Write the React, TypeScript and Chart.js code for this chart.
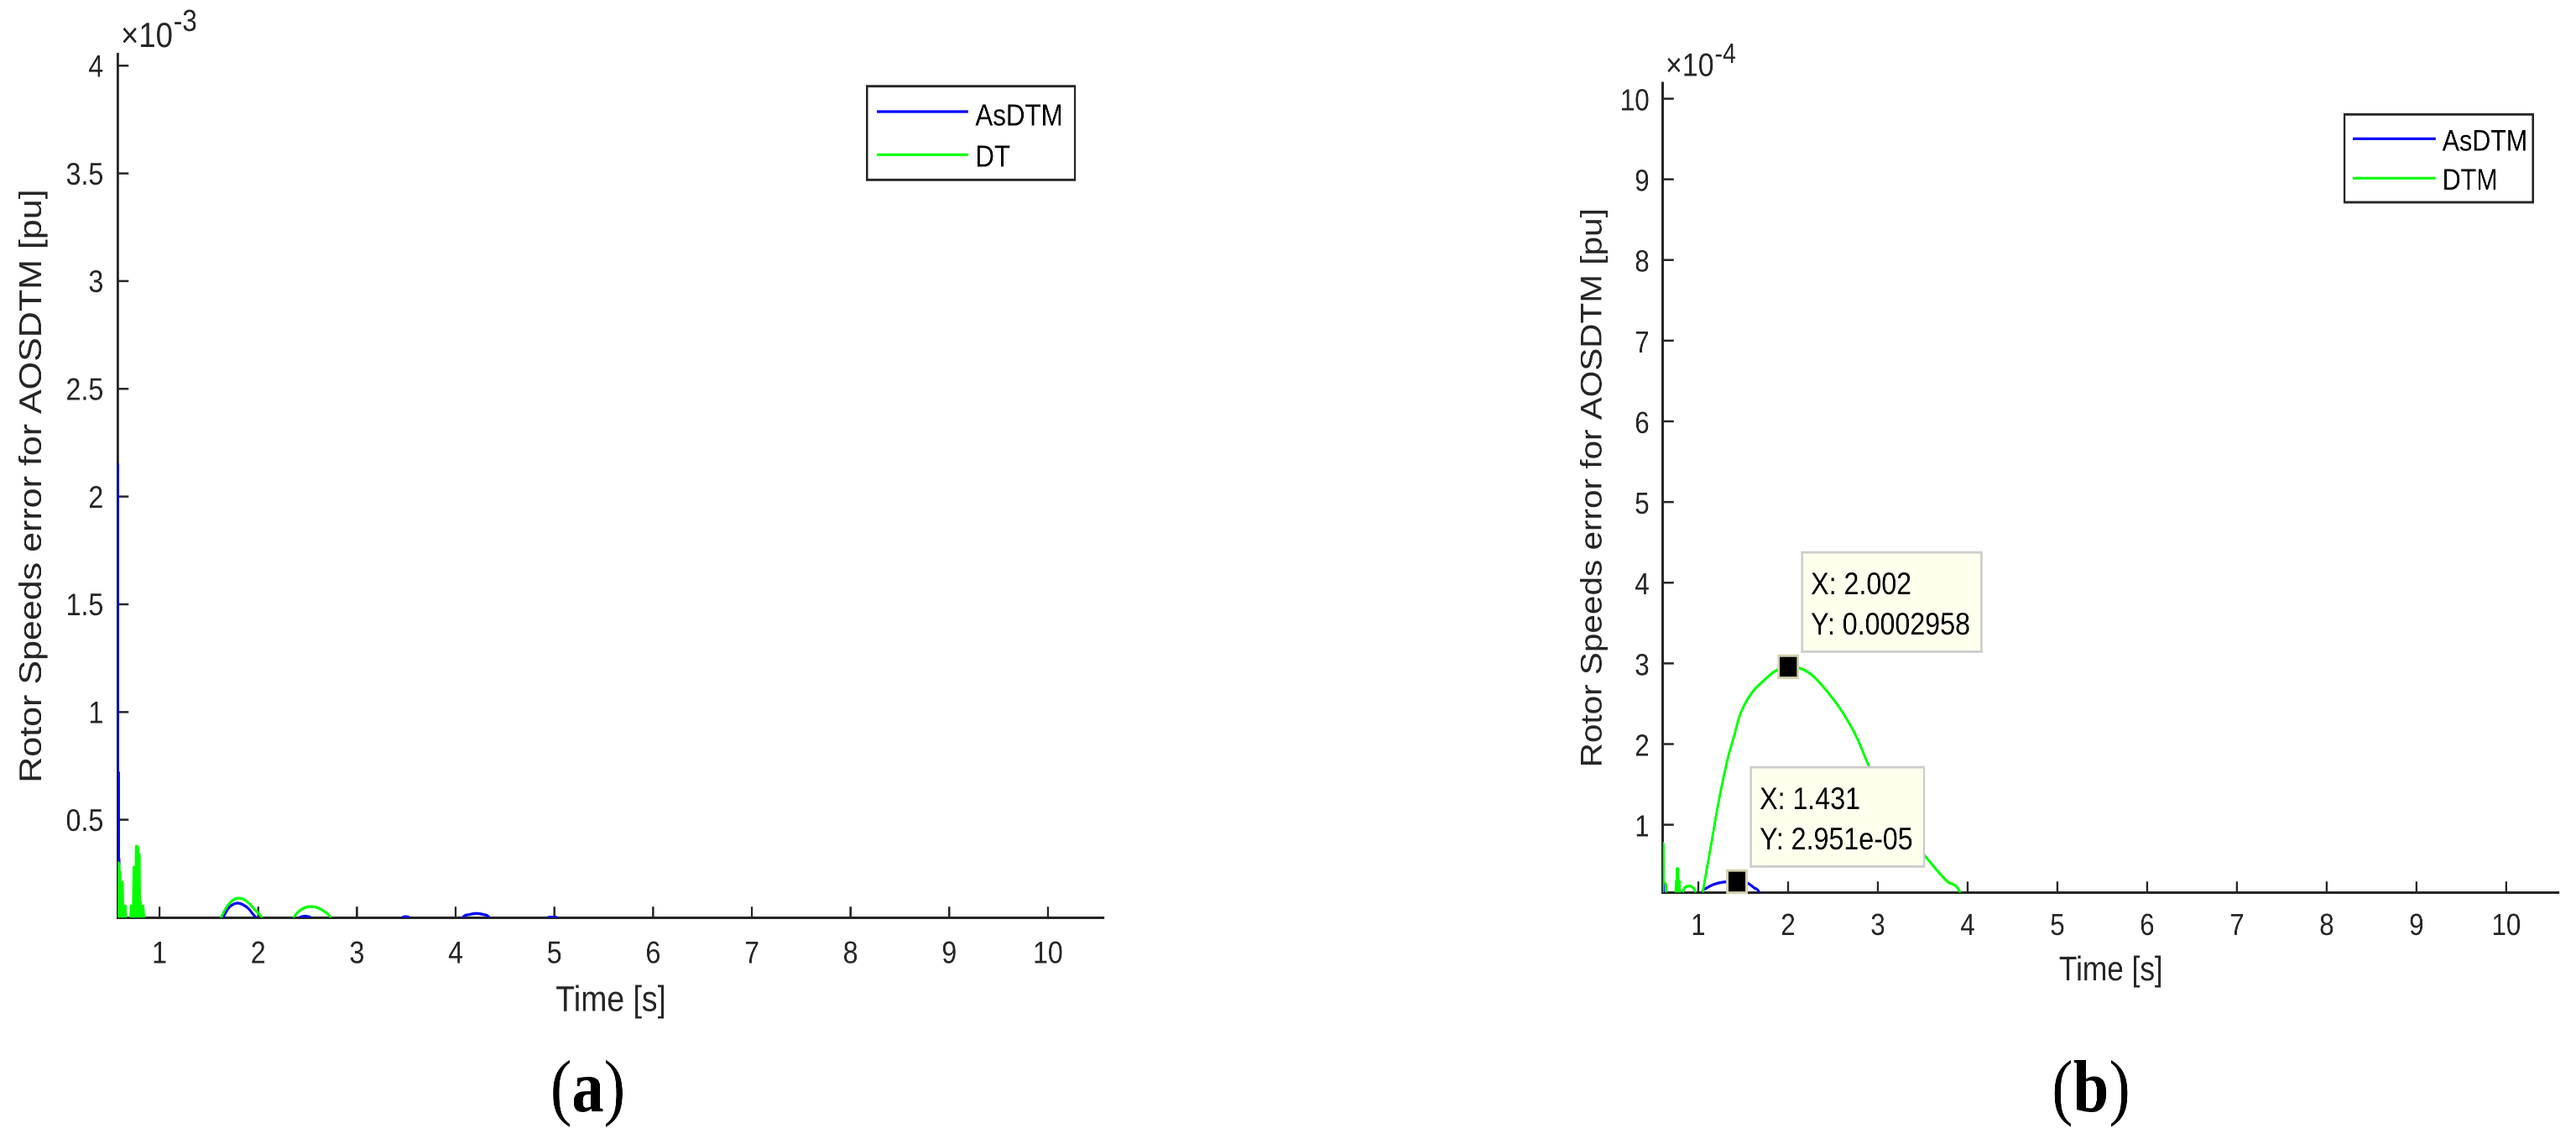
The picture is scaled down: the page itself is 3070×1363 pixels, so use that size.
import React, { useEffect, useRef } from 'react';
import { Chart, registerables } from 'chart.js';

Chart.register(...registerables);

// ---------------- data ----------------
const X_TICKS = [1, 2, 3, 4, 5, 6, 7, 8, 9, 10];
const X_TICK_LABELS = ['1', '2', '3', '4', '5', '6', '7', '8', '9', '10'];

// panel (a): y in units of 1e-3 pu
const A_Y_TICKS = [0.5, 1, 1.5, 2, 2.5, 3, 3.5, 4];
const A_Y_TICK_LABELS = ['0.5', '1', '1.5', '2', '2.5', '3', '3.5', '4'];
// panel (b): y in units of 1e-4 pu
const B_Y_TICKS = [1, 2, 3, 4, 5, 6, 7, 8, 9, 10];
const B_Y_TICK_LABELS = ['1', '2', '3', '4', '5', '6', '7', '8', '9', '10'];

const A_NAMES = ['AsDTM', 'DT'];
const B_NAMES = ['AsDTM', 'DTM'];

const A_ASDTM_T = [0.577, 0.579, 0.582, 0.585, 0.588, 0.591, 0.594, 0.598, 0.602, 0.62,
  0.735, 0.745, 0.752, 0.758, 0.765, 0.772, 0.78, 0.79,
  1.60, 1.645, 1.70, 1.75, 1.79, 1.84, 1.90, 1.95, 1.976, 2.02,
  2.40, 2.42, 2.475, 2.53, 2.55,
  3.44, 3.46, 3.495, 3.53, 3.55,
  4.04, 4.07, 4.14, 4.21, 4.28, 4.34, 4.37,
  4.92, 4.94, 4.98, 5.02, 5.04, 10.57];
const A_ASDTM_E = [0.5, 2.15, 0.3, 0.72, 0.2, 0.32, 0.1, 0.12, 0.03, 0,
  0, 0.11, 0.03, 0.175, 0.04, 0.1, 0.02, 0,
  0, 0.046, 0.09, 0.108, 0.113, 0.107, 0.088, 0.06, 0.046, 0,
  0, 0.046, 0.052, 0.046, 0,
  0, 0.046, 0.05, 0.046, 0,
  0, 0.046, 0.06, 0.065, 0.06, 0.046, 0,
  0, 0.047, 0.048, 0.047, 0, 0];

const A_DT_T = [0.577, 0.580, 0.583, 0.586, 0.589, 0.592, 0.595, 0.600, 0.605, 0.612, 0.618, 0.625, 0.632, 0.640, 0.648, 0.655, 0.662,
  0.705, 0.712, 0.718, 0.725, 0.732, 0.740, 0.746, 0.752, 0.757, 0.763, 0.768, 0.774, 0.779, 0.785, 0.790, 0.796, 0.801, 0.807, 0.813, 0.820, 0.827, 0.835, 0.845,
  1.58, 1.623, 1.68, 1.73, 1.78, 1.806, 1.85, 1.90, 1.96, 2.036, 2.08,
  2.32, 2.359, 2.42, 2.48, 2.543, 2.60, 2.66, 2.733, 2.77, 10.57];
const A_DT_E = [0.05, 0.30, 0.06, 0.30, 0.05, 0.29, 0.05, 0.26, 0.04, 0.21, 0.03, 0.21, 0.02, 0.10, 0.02, 0.10, 0,
  0, 0.10, 0.02, 0.10, 0.03, 0.28, 0.04, 0.28, 0.05, 0.377, 0.06, 0.377, 0.05, 0.37, 0.05, 0.34, 0.04, 0.12, 0.03, 0.10, 0.03, 0.10, 0,
  0, 0.046, 0.095, 0.122, 0.135, 0.136, 0.131, 0.115, 0.085, 0.046, 0,
  0, 0.046, 0.078, 0.093, 0.097, 0.092, 0.077, 0.046, 0, 0];

const B_ASDTM_T = [0.605, 0.607, 0.612, 1.00, 1.04, 1.10, 1.17, 1.27, 1.431, 1.55, 1.62, 1.68, 1.72, 10.59];
const B_ASDTM_E = [0.44, 0.44, 0, 0, 0.161, 0.22, 0.26, 0.288, 0.2951, 0.275, 0.22, 0.161, 0, 0];

const B_DTM_T = [0.605, 0.609, 0.615, 0.625, 0.640, 0.648,
  0.745, 0.752, 0.757, 0.763, 0.768, 0.775, 0.780, 0.790, 0.800,
  0.820, 0.830, 0.860, 0.900, 0.940, 0.965, 0.975,
  1.03, 1.05, 1.09, 1.15, 1.212, 1.274, 1.337, 1.399, 1.461, 1.586, 1.742, 1.85, 2.002, 2.06, 2.147, 2.272, 2.459, 2.615, 2.77, 2.91, 3.05, 3.20, 3.35, 3.55, 3.77, 3.915, 3.95, 10.59];
const B_DTM_E = [0.1, 0.77, 0.30, 0.28, 0.25, 0,
  0, 0.30, 0.05, 0.456, 0.10, 0.456, 0.08, 0.30, 0,
  0, 0.161, 0.23, 0.24, 0.22, 0.161, 0,
  0, 0.161, 0.42, 0.80, 1.20, 1.55, 1.86, 2.10, 2.35, 2.62, 2.80, 2.90, 2.958, 2.955, 2.935, 2.85, 2.62, 2.38, 2.07, 1.70, 1.40, 1.10, 0.85, 0.58, 0.30, 0.161, 0, 0];

// data tips (panel b)
const B_TIP_X = [1.431, 2.002];
const B_TIP_Y = [0.2951, 2.958];
const B_TIP_TEXT_X = ['X: 1.431', 'X: 2.002'];
const B_TIP_TEXT_Y = ['Y: 2.951e-05', 'Y: 0.0002958'];

// ---------------- styling / layout ----------------
const K = 0.87; // horizontal condensation of the original figure
const FONT = '"Liberation Sans", Arial, Helvetica, sans-serif';
const SERIF = '"Liberation Serif", "Times New Roman", Times, serif';
const AX = '#262626';
const BLUE = '#0000FF';
const GREEN = '#00FF00';
const H = 1363;

type Panel = {
  key: string; left: number; pageWidth: number;
  area: { left: number; right: number; top: number; bottom: number };
  xMin: number; xMax: number; yMin: number; yMax: number;
  yTicks: number[]; yLabels: string[]; names: string[];
  s1: [number[], number[]]; s2: [number[], number[]];
  tickFont: number; titleFont: number; xTickMid: number; yTickGap: number; yLabelOffset: number;
  yTitleMid: number; xTitleMid: number;
  exponent: string; expX: number; expBase: number; expSupBase: number; expFont: number; expSupFont: number;
  legend: { box: number[]; lineX: number[]; lineY: number[]; textX: number; textBase: number[]; font: number };
  caption: string; captionX: number; captionBase: number; captionFont: number;
  tips: boolean;
};

const PANEL_A: Panel = {
  key: 'a', left: 0, pageWidth: 1540,
  area: { left: 140.3, right: 1316, top: 64.9, bottom: 1093.3 },
  xMin: 0.577, xMax: 10.57, yMin: 0.0456, yMax: 4.052,
  yTicks: A_Y_TICKS, yLabels: A_Y_TICK_LABELS, names: A_NAMES,
  s1: [A_ASDTM_T, A_ASDTM_E], s2: [A_DT_T, A_DT_E],
  tickFont: 37, titleFont: 43, xTickMid: 1137.5, yTickGap: 17, yLabelOffset: 3,
  yTitleMid: 38.5, xTitleMid: 1192.5,
  exponent: '-3', expX: 144, expBase: 56, expSupBase: 37, expFont: 42, expSupFont: 36,
  legend: { box: [1033.3, 102.7, 1281, 214.3], lineX: [1045, 1153.7], lineY: [133, 184.3], textX: 1162.3, textBase: [149.3, 198.7], font: 36 },
  caption: 'a', captionX: 700.5, captionBase: 1324, captionFont: 88,
  tips: false,
};

const PANEL_B: Panel = {
  key: 'b', left: 1560, pageWidth: 1510,
  area: { left: 1981.7, right: 3050, top: 99.3, bottom: 1063.3 },
  xMin: 0.605, xMax: 10.59, yMin: 0.161, yMax: 10.19,
  yTicks: B_Y_TICKS, yLabels: B_Y_TICK_LABELS, names: B_NAMES,
  s1: [B_ASDTM_T, B_ASDTM_E], s2: [B_DTM_T, B_DTM_E],
  tickFont: 36, titleFont: 40.5, xTickMid: 1104, yTickGap: 16, yLabelOffset: 4,
  yTitleMid: 1898.6, xTitleMid: 1157,
  exponent: '-4', expX: 1985, expBase: 90.7, expSupBase: 75, expFont: 39, expSupFont: 33,
  legend: { box: [2794, 136.3, 3018.7, 241], lineX: [2804, 2902.7], lineY: [165.3, 212.3], textX: 2910.7, textBase: [179.3, 226], font: 35 },
  caption: 'b', captionX: 2492, captionBase: 1324, captionFont: 88,
  tips: true,
};

const pts = (xs: number[], ys: number[]) => xs.map((x, i) => ({ x, y: ys[i] }));

function decorPlugin(p: Panel) {
  const cx = (x: number) => (x - p.left) / K;
  return {
    id: 'decor_' + p.key,
    beforeDatasetsDraw(chart: any) {
      const { ctx, chartArea: a, scales } = chart;
      ctx.save();
      ctx.strokeStyle = AX;
      ctx.lineWidth = 2.8;
      ctx.beginPath();
      for (const t of scales.x.ticks) {
        const x = scales.x.getPixelForValue(t.value);
        ctx.moveTo(x, a.bottom);
        ctx.lineTo(x, a.bottom - 13);
      }
      ctx.stroke();
      ctx.lineWidth = 2.5;
      ctx.beginPath();
      for (const t of scales.y.ticks) {
        const y = scales.y.getPixelForValue(t.value);
        ctx.moveTo(a.left, y);
        ctx.lineTo(a.left + 13 / K, y);
      }
      ctx.stroke();
      ctx.restore();
    },
    afterDraw(chart: any) {
      const { ctx, scales } = chart;
      ctx.save();
      // exponent label
      ctx.fillStyle = AX;
      ctx.textAlign = 'left';
      ctx.textBaseline = 'alphabetic';
      ctx.font = `${p.expFont}px ${FONT}`;
      const base = '\u00D710';
      ctx.fillText(base, cx(p.expX), p.expBase);
      const bw = ctx.measureText(base).width;
      ctx.font = `${p.expSupFont}px ${FONT}`;
      ctx.fillText(p.exponent, cx(p.expX) + bw + 1, p.expSupBase);

      // legend
      const L = p.legend;
      ctx.fillStyle = '#FFFFFF';
      const bx = cx(L.box[0]), by = L.box[1], bw2 = cx(L.box[2]) - cx(L.box[0]), bh = L.box[3] - L.box[1];
      ctx.fillRect(bx, by, bw2, bh);
      ctx.strokeStyle = AX;
      ctx.lineWidth = 2.9;
      ctx.strokeRect(bx, by, bw2, bh);
      const ds = chart.data.datasets;
      for (let i = 0; i < 2; i++) {
        ctx.strokeStyle = ds[i].borderColor;
        ctx.lineWidth = 3.2;
        ctx.beginPath();
        ctx.moveTo(cx(L.lineX[0]), L.lineY[i]);
        ctx.lineTo(cx(L.lineX[1]), L.lineY[i]);
        ctx.stroke();
        ctx.fillStyle = '#000000';
        ctx.font = `${L.font}px ${FONT}`;
        ctx.fillText(ds[i].label, cx(L.textX), L.textBase[i]);
      }

      // data tips
      if (p.tips) {
        for (let i = 0; i < B_TIP_X.length; i++) {
          const mx = scales.x.getPixelForValue(B_TIP_X[i]);
          const my = scales.y.getPixelForValue(B_TIP_Y[i]);
          ctx.font = `37px ${FONT}`;
          const tw = Math.max(ctx.measureText(B_TIP_TEXT_X[i]).width, ctx.measureText(B_TIP_TEXT_Y[i]).width);
          const left = mx + 16.5 / K;
          const bottom = my - 18;
          const top = bottom - 118.3;
          const w = tw + 24 / K;
          ctx.fillStyle = 'rgb(255,255,238)';
          ctx.fillRect(left, top, w, bottom - top);
          ctx.strokeStyle = 'rgb(204,204,204)';
          ctx.lineWidth = 2.8;
          ctx.strokeRect(left, top, w, bottom - top);
          ctx.fillStyle = '#000000';
          ctx.fillText(B_TIP_TEXT_X[i], left + 10.5 / K, top + 50);
          ctx.fillText(B_TIP_TEXT_Y[i], left + 10.5 / K, top + 97.7);
        }
      }

      // caption "(a)" / "(b)"
      const fN = `${p.captionFont}px ${SERIF}`;
      const fB = `bold ${p.captionFont}px ${SERIF}`;
      ctx.fillStyle = '#000000';
      ctx.font = fN;
      const wo = ctx.measureText('(').width;
      const wc = ctx.measureText(')').width;
      ctx.font = fB;
      const wl = ctx.measureText(p.caption).width;
      const x0 = cx(p.captionX) - (wo + wl + wc) / 2;
      ctx.font = fN;
      ctx.fillText('(', x0, p.captionBase);
      ctx.font = fB;
      ctx.fillText(p.caption, x0 + wo, p.captionBase);
      ctx.font = fN;
      ctx.fillText(')', x0 + wo + wl, p.captionBase);
      ctx.restore();
    },
  };
}

function buildConfig(p: Panel, Wc: number) {
  const cx = (x: number) => (x - p.left) / K;
  const yWidth = cx(p.area.left);
  const padR = Wc - cx(p.area.right);
  const xH = H - p.area.bottom;
  const tickLH = p.tickFont * 1.2;
  const titleLH = p.titleFont * 1.2;
  const datasets: any[] = [
    {
      label: p.names[0], data: pts(p.s1[0], p.s1[1]), borderColor: BLUE, backgroundColor: BLUE,
      borderWidth: 3.3, pointRadius: 0, order: 2, cubicInterpolationMode: 'monotone', borderJoinStyle: 'round',
    },
    {
      label: p.names[1], data: pts(p.s2[0], p.s2[1]), borderColor: GREEN, backgroundColor: GREEN,
      borderWidth: 3.3, pointRadius: 0, order: 1, cubicInterpolationMode: 'monotone', borderJoinStyle: 'round',
    },
  ];
  if (p.tips) {
    datasets.push({
      label: 'datatips', data: pts(B_TIP_X, B_TIP_Y), showLine: false, pointStyle: 'rect',
      pointRadius: 18.7, pointBackgroundColor: '#000000', pointBorderColor: 'rgb(212,208,176)',
      pointBorderWidth: 3, order: 0, clip: false,
    });
  }
  return {
    type: 'line',
    data: { datasets },
    options: {
      responsive: false,
      animation: false,
      devicePixelRatio: 2,
      events: [],
      layout: { padding: { left: 0, right: padR, top: p.area.top, bottom: 0 } },
      plugins: { legend: { display: false }, tooltip: { enabled: false }, title: { display: false } },
      scales: {
        x: {
          type: 'linear', min: p.xMin, max: p.xMax,
          afterFit: (s: any) => { s.height = xH; },
          afterBuildTicks: (s: any) => { s.ticks = X_TICKS.map((v) => ({ value: v })); },
          grid: { display: false, drawTicks: false },
          border: { display: true, color: AX, width: 3 },
          ticks: {
            autoSkip: false, maxRotation: 0, minRotation: 0, color: AX,
            padding: p.xTickMid - p.area.bottom - tickLH / 2,
            font: { family: FONT, size: p.tickFont },
            callback: (v: number) => { const i = X_TICKS.indexOf(v); return i >= 0 ? X_TICK_LABELS[i] : ''; },
          },
          title: {
            display: true, text: 'Time [s]', color: AX,
            font: { family: FONT, size: p.titleFont },
            padding: { top: 0, bottom: H - p.xTitleMid - titleLH / 2 },
          },
        },
        y: {
          type: 'linear', min: p.yMin, max: p.yMax,
          afterFit: (s: any) => { s.width = yWidth; },
          afterBuildTicks: (s: any) => { s.ticks = p.yTicks.map((v) => ({ value: v })); },
          grid: { display: false, drawTicks: false },
          border: { display: true, color: AX, width: 3.4 },
          ticks: {
            autoSkip: false, color: AX, padding: p.yTickGap / K, labelOffset: p.yLabelOffset,
            font: { family: FONT, size: p.tickFont },
            callback: (v: number) => { const i = p.yTicks.indexOf(v); return i >= 0 ? p.yLabels[i] : ''; },
          },
          title: {
            display: true, text: 'Rotor Speeds error for AOSDTM [pu]', color: AX,
            font: { family: FONT, size: p.titleFont },
            padding: { top: cx(p.yTitleMid) - titleLH / 2, bottom: 0 },
          },
        },
      },
    },
    plugins: [decorPlugin(p)],
  };
}

function PanelChart({ p }: { p: Panel }) {
  const ref = useRef<HTMLCanvasElement | null>(null);
  const Wc = Math.round(p.pageWidth / K);
  useEffect(() => {
    if (!ref.current) return;
    const chart = new Chart(ref.current, buildConfig(p, Wc) as any);
    return () => chart.destroy();
  }, []);
  return (
    <div style={{ position: 'absolute', left: p.left, top: 0, width: Wc, height: H, transform: `scaleX(${K})`, transformOrigin: '0 0' }}>
      <canvas ref={ref} width={Wc} height={H} style={{ width: Wc, height: H, display: 'block' }} />
    </div>
  );
}

export default function App() {
  return (
    <div style={{ position: 'absolute', left: 0, top: 0, width: 3070, height: H, background: '#FFFFFF', overflow: 'hidden' }}>
      <PanelChart p={PANEL_A} />
      <PanelChart p={PANEL_B} />
    </div>
  );
}
